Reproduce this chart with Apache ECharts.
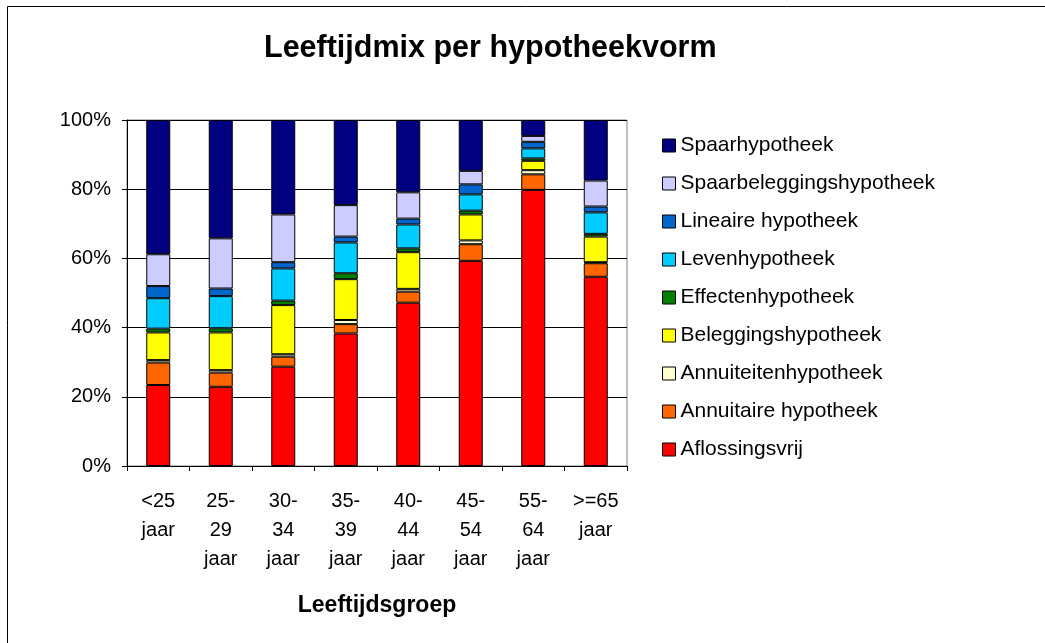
<!DOCTYPE html>
<html>
<head>
<meta charset="utf-8">
<script src="https://cdn.jsdelivr.net/npm/echarts@6/dist/echarts.min.js"></script>
<style>
  html, body { margin: 0; padding: 0; background: #fff; }
  #chart { width: 1045px; height: 643px; }
</style>
</head>
<body>
<div id="chart"></div>
<script>
// leeftijdsgroepen
const categories = ['<25\njaar', '25-\n29\njaar', '30-\n34\njaar', '35-\n39\njaar', '40-\n44\njaar', '45-\n54\njaar', '55-\n64\njaar', '>=65\njaar'];

// aandelen per hypotheekvorm (%), van onder naar boven gestapeld
const aflossingsvrij = [23.4, 22.9, 28.7, 38.3, 47.2, 59.3, 79.8, 54.7];
const annuitaire = [6.5, 4.1, 2.9, 2.7, 3.2, 4.8, 4.5, 3.9];
const annuiteiten = [0.7, 0.7, 0.7, 1.2, 0.8, 1.1, 1.2, 0.3];
const beleggings = [8.0, 10.9, 14.2, 11.8, 10.6, 7.5, 2.7, 7.4];
const effecten = [1.1, 1.2, 1.3, 1.7, 1.1, 1.1, 0.7, 0.8];
const leven = [8.8, 9.3, 9.3, 8.9, 6.9, 4.7, 2.9, 6.2];
const lineaire = [3.5, 2.2, 1.8, 1.7, 1.7, 2.9, 1.9, 1.7];
const spaarbelegging = [9.2, 14.5, 13.8, 9.1, 7.6, 3.9, 1.7, 7.5];
const spaar = [38.8, 34.2, 27.3, 24.6, 20.9, 14.7, 4.6, 17.5];

const yTicks = [0, 20, 40, 60, 80, 100];

const seriesDefs = [
  { name: 'Aflossingsvrij', data: aflossingsvrij, color: '#FF0000' },
  { name: 'Annuitaire hypotheek', data: annuitaire, color: '#FF6600' },
  { name: 'Annuiteitenhypotheek', data: annuiteiten, color: '#FFFFCC' },
  { name: 'Beleggingshypotheek', data: beleggings, color: '#FFFF00' },
  { name: 'Effectenhypotheek', data: effecten, color: '#008000' },
  { name: 'Levenhypotheek', data: leven, color: '#00CCFF' },
  { name: 'Lineaire hypotheek', data: lineaire, color: '#0066CC' },
  { name: 'Spaarbeleggingshypotheek', data: spaarbelegging, color: '#CCCCFF' },
  { name: 'Spaarhypotheek', data: spaar, color: '#000080' },
];

const font = 'Arial, "Liberation Sans", sans-serif';

const chart = echarts.init(document.getElementById('chart'));

const option = {
  animation: false,
  backgroundColor: '#fff',
  textStyle: { fontFamily: font },
  title: {
    text: 'Leeftijdmix per hypotheekvorm',
    left: 259,
    top: 28,
    textStyle: { fontFamily: font, fontSize: 30.5, fontWeight: 'bold', color: '#000' },
  },
  graphic: [
    {
      type: 'rect',
      shape: { x: 7.5, y: 6.5, width: 1100, height: 700 },
      style: { fill: 'none', stroke: '#000', lineWidth: 1 },
      silent: true,
    },
  ],
  legend: {
    orient: 'vertical',
    left: 657,
    top: 130,
    icon: 'rect',
    itemWidth: 13,
    itemHeight: 13,
    itemGap: 17,
    data: seriesDefs.map((s) => s.name).reverse(),
    textStyle: { fontFamily: font, fontSize: 21, color: '#000', lineHeight: 21, padding: 0 },
    itemStyle: { borderColor: '#000', borderWidth: 1 },
  },
  grid: {
    show: true,
    left: 127,
    right: 418,
    top: 120,
    bottom: 177,
    borderColor: '#808080',
    borderWidth: 1,
  },
  xAxis: {
    type: 'category',
    data: categories,
    name: 'Leeftijdsgroep',
    nameLocation: 'middle',
    nameGap: 128,
    nameTextStyle: { fontFamily: font, fontSize: 23, fontWeight: 'bold', color: '#000' },
    axisLine: { lineStyle: { color: '#000', width: 1 } },
    axisTick: { show: true, length: 5, lineStyle: { color: '#000' } },
    axisLabel: { color: '#000', fontSize: 20, lineHeight: 29, margin: 21, interval: 0, fontFamily: font },
  },
  yAxis: {
    type: 'value',
    min: yTicks[0],
    max: yTicks[yTicks.length - 1],
    interval: 20,
    axisLine: { show: true, lineStyle: { color: '#000', width: 1 } },
    axisTick: { show: true, length: 5, lineStyle: { color: '#000' } },
    axisLabel: { color: '#000', fontSize: 20, margin: 16, formatter: '{value}%', fontFamily: font },
    splitLine: { show: true, lineStyle: { color: '#000', width: 1 } },
  },
  series: seriesDefs.map((s) => ({
    name: s.name,
    type: 'bar',
    stack: 'totaal',
    barWidth: 24,
    data: s.data,
    itemStyle: { color: s.color, borderColor: '#000', borderWidth: 1 },
  })),
};

chart.setOption(option);
</script>
</body>
</html>
